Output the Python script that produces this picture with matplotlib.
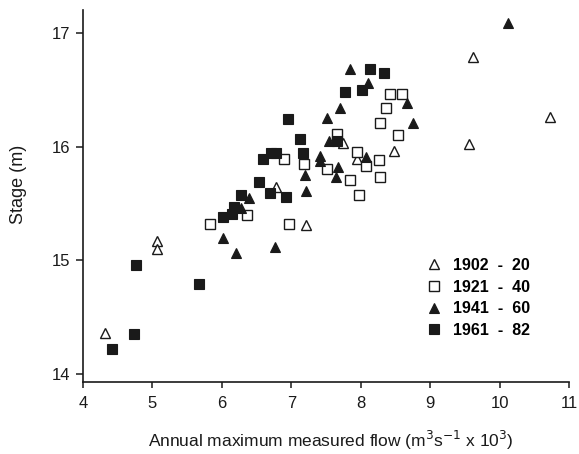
import matplotlib
matplotlib.use("Agg")
import matplotlib.pyplot as plt

plt.rcParams['font.family'] = ['Liberation Sans', 'DejaVu Sans']

# 1902-20 (open triangles)
x_1902 = [4.31, 5.06, 5.06, 6.78, 7.21, 7.75, 7.94, 8.48, 9.62, 10.73, 9.56]
y_1902 = [14.36, 15.17, 15.10, 15.64, 15.31, 16.03, 15.89, 15.96, 16.79, 16.26, 16.02]

# 1921-40 (open squares)
x_1921 = [5.83, 6.36, 6.89, 6.96, 7.18, 7.51, 7.66, 7.85, 7.94, 7.98, 8.07, 8.27,
          8.28, 8.28, 8.37, 8.42, 8.60, 8.53]
y_1921 = [15.32, 15.40, 15.89, 15.32, 15.85, 15.80, 16.11, 15.71, 15.95, 15.57, 15.83, 15.88,
          15.73, 16.21, 16.34, 16.46, 16.46, 16.10]

# 1941-60 (filled triangles)
x_1941 = [6.02, 6.21, 6.27, 6.39, 6.77, 7.20, 7.21, 7.42, 7.42, 7.51, 7.55, 7.64,
          7.68, 7.70, 7.85, 8.08, 8.10, 8.66, 8.76, 10.12]
y_1941 = [15.20, 15.06, 15.46, 15.55, 15.12, 15.75, 15.61, 15.92, 15.87, 16.25, 16.05, 15.73,
          15.82, 16.34, 16.68, 15.91, 16.56, 16.38, 16.21, 17.09]

# 1961-82 (filled squares)
x_1961 = [4.42, 4.74, 4.77, 5.67, 6.02, 6.15, 6.17, 6.27, 6.53, 6.59, 6.71, 6.78,
          6.69, 6.93, 6.95, 7.13, 7.17, 7.66, 7.78, 8.02, 8.14, 8.34]
y_1961 = [14.22, 14.35, 14.96, 14.79, 15.38, 15.41, 15.47, 15.57, 15.69, 15.89, 15.94, 15.94,
          15.59, 15.56, 16.24, 16.07, 15.94, 16.05, 16.48, 16.50, 16.68, 16.65]

labels = ["1902  -  20", "1921  -  40", "1941  -  60", "1961  -  82"]
x_ticks = [4, 5, 6, 7, 8, 9, 10, 11]
y_ticks = [14, 15, 16, 17]

fig = plt.figure(figsize=(5.79, 4.54), dpi=100)
ax = fig.add_axes([83/579, 1 - 382/454, (569 - 83)/579, (382 - 10)/454])

ink = '#1a1a1a'
ax.plot(x_1902, y_1902, ls='none', marker='^', ms=7, mfc='white', mec=ink, mew=1.0, label=labels[0])
ax.plot(x_1921, y_1921, ls='none', marker='s', ms=7, mfc='white', mec=ink, mew=1.0, label=labels[1])
ax.plot(x_1941, y_1941, ls='none', marker='^', ms=7.5, mfc=ink, mec=ink, mew=0.8, label=labels[2])
ax.plot(x_1961, y_1961, ls='none', marker='s', ms=7, mfc=ink, mec=ink, mew=0.8, label=labels[3])

ax.set_xlim(4, 11)
ax.set_ylim(13.93, 17.2)
ax.set_xticks(x_ticks)
ax.set_yticks(y_ticks)
ax.tick_params(axis='both', labelsize=12, colors=ink, width=1.1)
ax.tick_params(axis='x', direction='out', length=4, pad=6)
ax.tick_params(axis='y', direction='out', length=5, pad=4)
for s in ['top', 'right']:
    ax.spines[s].set_visible(False)
for s in ['left', 'bottom']:
    ax.spines[s].set_linewidth(1.2)
    ax.spines[s].set_color(ink)

ax.set_xlabel("Annual maximum measured flow (m$^3$s$^{-1}$ x 10$^3$)", fontsize=12.5, color=ink)
ax.set_ylabel("Stage (m)", fontsize=13, color=ink)
ax.xaxis.set_label_coords(0.51, -0.125)
ax.yaxis.set_label_coords(-0.115, 0.53)

leg = ax.legend(loc='upper left', bbox_to_anchor=(0.69, 0.355), frameon=False,
                prop={'weight': 'bold', 'size': 11.5}, handletextpad=0.7,
                labelspacing=0.42, handlelength=1.0, borderpad=0)

fig.savefig("out.png", dpi=100)
